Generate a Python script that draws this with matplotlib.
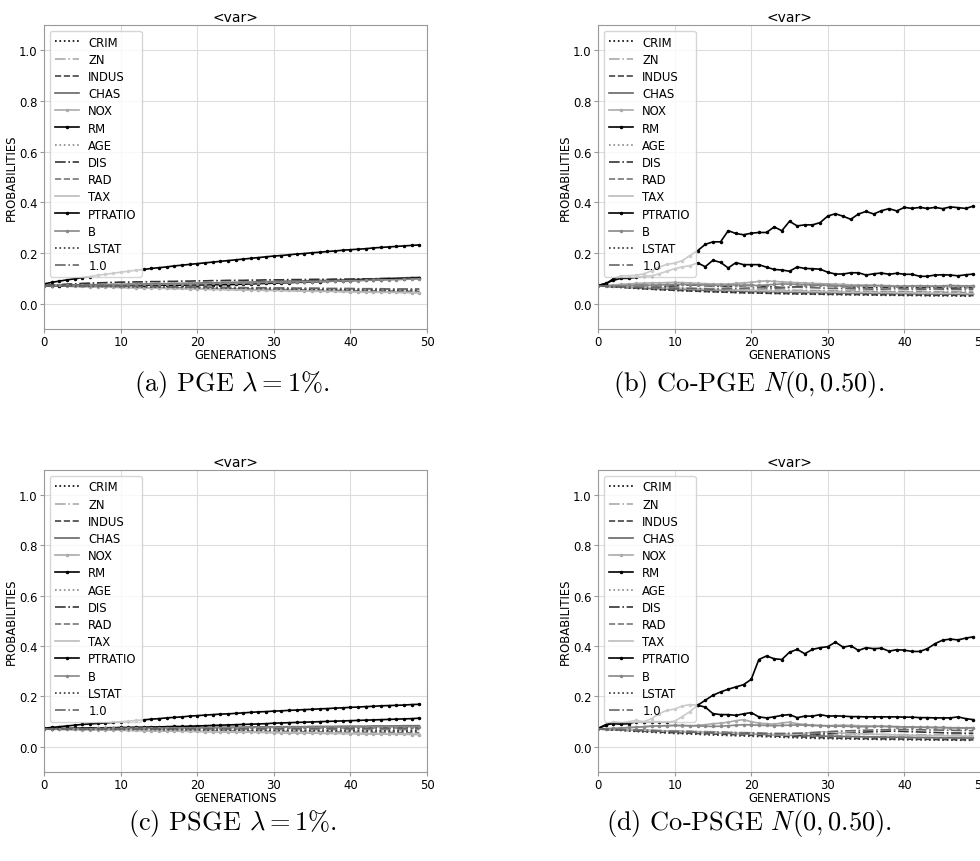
import numpy as np
import matplotlib.pyplot as plt

plt.rcParams['font.size'] = 8.4
plt.rcParams['mathtext.fontset'] = 'cm'

labels = ["CRIM", "ZN", "INDUS", "CHAS", "NOX", "RM", "AGE", "DIS", "RAD",
          "TAX", "PTRATIO", "B", "LSTAT", "1.0"]

# probabilities per generation, in thousandths

# (a) PGE
pge_CRIM = [71, 71, 70, 70, 69, 69, 68, 68, 67, 67,
            66, 66, 65, 65, 64, 64, 63, 63, 62, 62,
            61, 61, 60, 60, 59, 59, 58, 58, 57, 57,
            56, 56, 56, 55, 55, 55, 54, 54, 54, 53,
            53, 53, 52, 52, 52, 51, 51, 51, 50, 50]
pge_ZN = [71, 71, 71, 70, 70, 70, 69, 69, 69, 68,
          68, 68, 67, 67, 67, 66, 66, 66, 65, 65,
          65, 64, 64, 64, 63, 63, 63, 62, 62, 62,
          61, 61, 61, 60, 60, 60, 59, 59, 59, 58,
          58, 58, 58, 57, 57, 57, 57, 56, 56, 56]
pge_INDUS = [71, 70, 70, 69, 69, 68, 67, 67, 66, 66,
             65, 65, 64, 63, 63, 62, 62, 61, 61, 60,
             60, 59, 59, 58, 58, 57, 57, 56, 56, 55,
             55, 54, 54, 53, 53, 52, 52, 51, 51, 51,
             50, 50, 49, 49, 49, 48, 48, 48, 47, 47]
pge_CHAS = [71, 72, 72, 73, 73, 74, 74, 75, 75, 76,
            76, 77, 77, 78, 78, 79, 79, 80, 80, 81,
            81, 82, 82, 83, 84, 84, 85, 85, 86, 87,
            87, 88, 89, 89, 90, 91, 91, 92, 93, 94,
            95, 96, 97, 98, 99, 100, 101, 102, 103, 104]
pge_NOX = [71, 70, 70, 69, 68, 68, 67, 66, 66, 65,
           64, 64, 63, 63, 62, 61, 61, 60, 60, 59,
           58, 58, 57, 57, 56, 56, 55, 55, 54, 54,
           53, 53, 52, 52, 51, 51, 50, 50, 49, 49,
           48, 48, 47, 47, 46, 46, 45, 45, 44, 44]
pge_RM = [78, 84, 89, 94, 98, 103, 107, 112, 116, 120,
          124, 128, 132, 135, 139, 142, 145, 149, 152, 155,
          158, 161, 164, 167, 170, 173, 176, 179, 182, 185,
          188, 190, 193, 196, 198, 201, 203, 206, 208, 211,
          213, 215, 217, 220, 222, 224, 226, 228, 230, 232]
pge_AGE = [71, 71, 70, 70, 69, 69, 69, 68, 68, 67,
           67, 67, 66, 66, 65, 65, 65, 64, 64, 63,
           63, 63, 62, 62, 61, 61, 61, 60, 60, 59,
           59, 59, 58, 58, 57, 57, 57, 56, 56, 55,
           55, 55, 54, 54, 54, 53, 53, 53, 52, 52]
pge_DIS = [71, 73, 75, 77, 78, 80, 81, 82, 83, 84,
           85, 85, 86, 86, 87, 87, 88, 88, 89, 89,
           90, 90, 91, 91, 92, 92, 92, 93, 93, 94,
           94, 94, 95, 95, 95, 96, 96, 96, 97, 97,
           97, 98, 98, 98, 99, 99, 99, 100, 100, 100]
pge_RAD = [71, 70, 70, 69, 69, 68, 68, 67, 67, 66,
           66, 65, 65, 64, 64, 63, 63, 62, 62, 61,
           61, 60, 60, 59, 59, 58, 58, 57, 57, 56,
           56, 55, 55, 54, 54, 53, 53, 52, 52, 52,
           51, 51, 50, 50, 50, 49, 49, 49, 48, 48]
pge_TAX = [71, 70, 69, 69, 68, 67, 67, 66, 65, 65,
           64, 63, 63, 62, 61, 61, 60, 59, 59, 58,
           58, 57, 56, 56, 55, 55, 54, 53, 53, 52,
           52, 51, 51, 50, 50, 49, 49, 48, 48, 47,
           47, 46, 46, 45, 45, 45, 44, 44, 43, 43]
pge_PTRATIO = [71, 71, 71, 72, 72, 72, 72, 72, 72, 72,
               72, 72, 72, 73, 73, 73, 73, 73, 73, 74,
               74, 74, 75, 75, 75, 76, 77, 78, 79, 80,
               81, 82, 83, 84, 85, 86, 87, 88, 89, 90,
               91, 92, 93, 94, 95, 97, 98, 99, 100, 101]
pge_B = [71, 71, 72, 72, 72, 73, 73, 73, 74, 74,
         74, 75, 75, 76, 76, 76, 77, 77, 78, 78,
         79, 79, 80, 80, 81, 81, 82, 82, 83, 84,
         84, 85, 85, 86, 87, 87, 88, 89, 89, 90,
         91, 91, 92, 93, 94, 94, 95, 96, 97, 98]
pge_LSTAT = [71, 71, 70, 70, 70, 69, 69, 68, 68, 68,
             67, 67, 66, 66, 66, 65, 65, 64, 64, 64,
             63, 63, 62, 62, 62, 61, 61, 60, 60, 60,
             59, 59, 58, 58, 58, 57, 57, 57, 56, 56,
             56, 55, 55, 55, 55, 54, 54, 54, 54, 54]
pge_ONE = [71, 71, 71, 70, 70, 70, 69, 69, 69, 69,
           68, 68, 68, 67, 67, 67, 66, 66, 66, 66,
           65, 65, 65, 64, 64, 64, 63, 63, 63, 63,
           62, 62, 62, 61, 61, 61, 61, 60, 60, 60,
           60, 59, 59, 59, 59, 58, 58, 58, 58, 58]

# (b) Co-PGE
copge_CRIM = [71, 69, 68, 66, 65, 63, 62, 61, 59, 58,
              57, 56, 55, 54, 52, 51, 50, 49, 48, 47,
              46, 46, 45, 44, 44, 43, 42, 42, 41, 41,
              40, 40, 39, 39, 38, 38, 38, 37, 37, 37,
              36, 36, 36, 35, 35, 35, 35, 34, 34, 34]
copge_ZN = [71, 70, 69, 69, 68, 67, 66, 66, 65, 64,
            63, 63, 62, 61, 60, 60, 59, 58, 57, 57,
            56, 56, 55, 55, 54, 54, 53, 53, 52, 52,
            52, 51, 51, 51, 50, 50, 50, 49, 49, 49,
            49, 48, 48, 48, 48, 48, 47, 47, 47, 47]
copge_INDUS = [71, 69, 67, 65, 63, 61, 59, 57, 56, 54,
               53, 52, 50, 49, 48, 47, 46, 45, 44, 43,
               43, 42, 41, 41, 40, 40, 39, 39, 38, 38,
               37, 37, 37, 36, 36, 36, 35, 35, 35, 34,
               34, 34, 34, 33, 33, 33, 33, 33, 32, 32]
copge_CHAS = [71, 69, 67, 66, 64, 63, 61, 60, 59, 58,
              57, 56, 55, 54, 53, 52, 52, 51, 50, 49,
              48, 48, 47, 47, 46, 46, 45, 45, 44, 44,
              43, 43, 42, 42, 42, 41, 41, 41, 40, 40,
              40, 39, 39, 39, 38, 38, 38, 37, 37, 37]
copge_NOX = [71, 72, 74, 76, 78, 80, 81, 82, 82, 83,
             84, 83, 82, 80, 79, 78, 78, 77, 80, 82,
             84, 88, 90, 88, 86, 84, 83, 82, 80, 79,
             78, 77, 76, 74, 74, 73, 72, 72, 71, 70,
             70, 69, 70, 69, 68, 69, 68, 68, 67, 68]
copge_RM = [72, 78, 98, 110, 110, 112, 118, 130, 145, 155,
            160, 170, 190, 209, 234, 244, 244, 288, 277, 272,
            278, 281, 281, 303, 288, 325, 307, 311, 311, 320,
            346, 355, 345, 333, 354, 364, 354, 367, 375, 366,
            380, 376, 380, 376, 380, 375, 382, 379, 376, 385]
copge_AGE = [71, 70, 68, 67, 66, 64, 63, 62, 61, 60,
             59, 58, 57, 56, 55, 54, 53, 52, 52, 51,
             50, 49, 49, 48, 47, 47, 46, 46, 45, 45,
             44, 44, 44, 43, 43, 43, 42, 42, 42, 42,
             41, 41, 41, 41, 40, 40, 40, 40, 40, 39]
copge_DIS = [71, 70, 69, 70, 71, 72, 73, 72, 70, 69,
             70, 72, 74, 73, 71, 70, 68, 67, 69, 71,
             73, 70, 68, 66, 64, 65, 67, 69, 71, 73,
             72, 70, 68, 66, 65, 64, 63, 64, 65, 66,
             64, 63, 62, 63, 64, 62, 61, 62, 63, 62]
copge_RAD = [71, 70, 69, 67, 66, 65, 64, 63, 62, 61,
             60, 59, 58, 57, 56, 55, 55, 54, 53, 53,
             52, 52, 51, 51, 50, 50, 49, 49, 49, 48,
             48, 48, 47, 47, 47, 46, 46, 46, 46, 45,
             45, 45, 45, 44, 44, 44, 44, 44, 43, 43]
copge_TAX = [71, 70, 69, 68, 67, 66, 65, 64, 63, 62,
             61, 60, 59, 58, 57, 56, 55, 55, 54, 53,
             52, 52, 51, 50, 50, 49, 49, 48, 48, 47,
             47, 46, 46, 45, 45, 45, 44, 44, 44, 43,
             43, 43, 42, 42, 42, 41, 41, 41, 40, 40]
copge_PTRATIO = [72, 80, 92, 100, 100, 104, 108, 110, 118, 128,
                 138, 145, 150, 161, 146, 171, 163, 141, 162, 154,
                 154, 154, 144, 135, 133, 128, 145, 139, 138, 136,
                 124, 117, 117, 122, 122, 113, 118, 121, 116, 120,
                 116, 116, 108, 108, 113, 114, 113, 110, 114, 117]
copge_B = [71, 70, 70, 71, 72, 73, 74, 73, 74, 75,
           76, 76, 75, 74, 74, 73, 72, 73, 74, 73,
           72, 72, 74, 76, 78, 77, 76, 75, 74, 73,
           72, 71, 70, 69, 70, 71, 72, 70, 69, 68,
           69, 70, 71, 70, 69, 70, 72, 71, 70, 71]
copge_LSTAT = [71, 68, 66, 64, 62, 60, 58, 57, 55, 54,
               52, 51, 50, 49, 48, 47, 46, 45, 44, 43,
               42, 42, 41, 40, 40, 39, 38, 38, 37, 37,
               36, 36, 35, 35, 35, 34, 34, 33, 33, 33,
               32, 32, 32, 31, 31, 31, 31, 30, 30, 30]
copge_ONE = [71, 69, 68, 67, 66, 65, 65, 64, 63, 62,
             61, 60, 60, 59, 58, 57, 58, 59, 60, 61,
             62, 63, 62, 61, 62, 64, 65, 64, 63, 62,
             61, 60, 60, 59, 58, 58, 57, 57, 58, 59,
             58, 57, 56, 57, 58, 57, 56, 56, 55, 56]

# (c) PSGE
psge_CRIM = [71, 71, 71, 70, 70, 70, 70, 69, 69, 69,
             69, 68, 68, 68, 68, 67, 67, 67, 67, 66,
             66, 66, 66, 65, 65, 65, 65, 64, 64, 64,
             64, 63, 63, 63, 63, 63, 62, 62, 62, 62,
             62, 61, 61, 61, 61, 61, 61, 60, 60, 60]
psge_ZN = [71, 71, 71, 71, 71, 71, 71, 70, 70, 70,
           70, 70, 70, 70, 70, 70, 70, 69, 69, 69,
           69, 69, 69, 69, 69, 69, 69, 69, 69, 69,
           69, 68, 68, 68, 68, 68, 68, 68, 68, 68,
           68, 68, 68, 68, 68, 68, 68, 68, 68, 68]
psge_INDUS = [71, 70, 70, 70, 69, 69, 68, 68, 68, 67,
              67, 66, 66, 66, 65, 65, 64, 64, 64, 63,
              63, 62, 62, 62, 61, 61, 60, 60, 60, 59,
              59, 58, 58, 58, 57, 57, 57, 56, 56, 56,
              55, 55, 55, 54, 54, 54, 54, 53, 53, 53]
psge_CHAS = [71, 71, 72, 72, 72, 73, 73, 73, 74, 74,
             74, 74, 75, 75, 75, 76, 76, 76, 76, 77,
             77, 77, 77, 78, 78, 78, 78, 79, 79, 79,
             79, 80, 80, 80, 80, 81, 81, 81, 81, 82,
             82, 82, 82, 83, 83, 83, 83, 84, 84, 84]
psge_NOX = [71, 70, 70, 69, 69, 68, 68, 67, 67, 66,
            66, 65, 65, 64, 64, 63, 63, 62, 62, 61,
            61, 60, 60, 59, 59, 58, 58, 58, 57, 57,
            56, 56, 55, 55, 55, 54, 54, 53, 53, 53,
            52, 52, 51, 51, 51, 50, 50, 50, 49, 49]
psge_RM = [74, 77, 80, 83, 86, 89, 91, 93, 95, 97,
           100, 102, 105, 107, 110, 112, 115, 117, 119, 122,
           124, 126, 128, 130, 131, 133, 135, 137, 139, 140,
           142, 143, 145, 146, 148, 149, 151, 152, 154, 155,
           157, 158, 160, 161, 163, 164, 165, 166, 168, 169]
psge_AGE = [71, 71, 70, 70, 70, 70, 69, 69, 69, 69,
            68, 68, 68, 67, 67, 67, 67, 66, 66, 66,
            65, 65, 65, 65, 64, 64, 64, 63, 63, 63,
            63, 62, 62, 62, 62, 61, 61, 61, 61, 60,
            60, 60, 60, 59, 59, 59, 59, 58, 58, 58]
psge_DIS = [71, 71, 71, 71, 72, 72, 72, 72, 72, 73,
            73, 73, 73, 73, 73, 74, 74, 74, 74, 74,
            74, 75, 75, 75, 75, 75, 75, 75, 76, 76,
            76, 76, 76, 76, 76, 76, 77, 77, 77, 77,
            77, 77, 77, 77, 77, 77, 77, 77, 77, 77]
psge_RAD = [71, 71, 70, 70, 70, 69, 69, 69, 68, 68,
            68, 67, 67, 67, 66, 66, 66, 65, 65, 65,
            64, 64, 64, 63, 63, 63, 62, 62, 62, 61,
            61, 61, 60, 60, 60, 60, 59, 59, 59, 58,
            58, 58, 58, 57, 57, 57, 57, 56, 56, 56]
psge_TAX = [71, 70, 70, 69, 69, 68, 68, 68, 67, 67,
            66, 66, 65, 65, 64, 64, 64, 63, 63, 62,
            62, 61, 61, 61, 60, 60, 59, 59, 59, 58,
            58, 57, 57, 57, 56, 56, 56, 55, 55, 54,
            54, 54, 53, 53, 53, 52, 52, 52, 51, 51]
psge_PTRATIO = [72, 72, 73, 73, 74, 74, 75, 75, 76, 76,
                77, 77, 78, 78, 79, 79, 80, 81, 81, 82,
                83, 84, 85, 86, 87, 88, 89, 90, 91, 92,
                94, 95, 96, 97, 98, 99, 100, 101, 102, 103,
                104, 105, 106, 107, 108, 109, 110, 111, 112, 114]
psge_B = [71, 71, 71, 72, 72, 72, 72, 73, 73, 73,
          73, 74, 74, 74, 74, 74, 75, 75, 75, 75,
          75, 76, 76, 76, 76, 76, 77, 77, 77, 77,
          77, 78, 78, 78, 78, 78, 78, 79, 79, 79,
          79, 79, 79, 80, 80, 80, 80, 80, 80, 80]
psge_LSTAT = [71, 71, 71, 71, 70, 70, 70, 70, 70, 70,
              69, 69, 69, 69, 69, 68, 68, 68, 68, 68,
              68, 67, 67, 67, 67, 67, 67, 66, 66, 66,
              66, 66, 66, 66, 65, 65, 65, 65, 65, 65,
              65, 65, 64, 64, 64, 64, 64, 64, 64, 64]
psge_ONE = [71, 71, 71, 71, 71, 71, 71, 71, 71, 71,
            71, 71, 71, 71, 71, 72, 72, 72, 72, 72,
            72, 72, 72, 72, 72, 72, 72, 72, 72, 72,
            72, 72, 72, 72, 72, 72, 72, 72, 72, 72,
            72, 72, 72, 72, 72, 72, 72, 72, 72, 72]

# (d) Co-PSGE
copsge_CRIM = [71, 70, 69, 67, 66, 65, 64, 63, 62, 61,
               60, 59, 58, 57, 56, 55, 54, 53, 52, 51,
               50, 49, 48, 47, 46, 45, 44, 43, 42, 41,
               41, 40, 40, 39, 39, 38, 38, 37, 37, 36,
               36, 36, 35, 35, 35, 34, 34, 34, 33, 33]
copsge_ZN = [71, 70, 70, 69, 68, 67, 67, 66, 65, 64,
             64, 63, 62, 61, 61, 60, 59, 58, 58, 57,
             56, 56, 55, 55, 54, 54, 53, 53, 52, 52,
             52, 51, 51, 51, 50, 50, 50, 49, 49, 49,
             48, 48, 48, 48, 47, 47, 47, 47, 46, 46]
copsge_INDUS = [71, 69, 68, 66, 65, 63, 62, 60, 59, 57,
                56, 55, 54, 53, 52, 51, 50, 49, 48, 47,
                46, 45, 44, 43, 42, 41, 40, 39, 38, 37,
                36, 35, 34, 34, 33, 33, 32, 32, 31, 31,
                31, 30, 30, 30, 29, 29, 29, 28, 28, 28]
copsge_CHAS = [71, 70, 69, 68, 67, 66, 65, 64, 63, 62,
               61, 60, 59, 58, 57, 56, 55, 54, 53, 52,
               51, 50, 49, 48, 47, 46, 45, 44, 44, 43,
               42, 42, 41, 41, 40, 40, 39, 39, 38, 38,
               38, 37, 37, 37, 36, 36, 36, 35, 35, 35]
copsge_NOX = [71, 72, 73, 74, 76, 78, 80, 82, 83, 84,
              85, 84, 83, 86, 88, 92, 94, 98, 104, 108,
              100, 94, 92, 90, 95, 98, 92, 89, 86, 85,
              84, 85, 86, 85, 84, 83, 82, 81, 80, 80,
              79, 78, 77, 77, 76, 76, 75, 75, 74, 74]
copsge_RM = [73, 85, 100, 95, 100, 105, 100, 112, 132, 145,
             150, 162, 168, 165, 185, 205, 218, 229, 238, 247,
             268, 347, 361, 350, 347, 376, 387, 370, 387, 394,
             398, 416, 396, 402, 383, 394, 390, 392, 380, 386,
             384, 379, 379, 390, 410, 424, 428, 425, 432, 437]
copsge_AGE = [71, 70, 69, 68, 67, 66, 65, 64, 63, 62,
              61, 60, 59, 58, 57, 56, 55, 54, 53, 52,
              52, 51, 50, 49, 48, 47, 46, 45, 44, 43,
              42, 41, 40, 40, 39, 39, 38, 38, 37, 37,
              36, 36, 35, 35, 35, 34, 34, 34, 33, 33]
copsge_DIS = [71, 70, 69, 68, 67, 66, 65, 64, 63, 62,
              61, 60, 60, 59, 58, 57, 57, 56, 55, 55,
              54, 53, 52, 50, 48, 46, 45, 46, 48, 50,
              52, 54, 55, 56, 58, 59, 60, 61, 62, 62,
              61, 60, 59, 58, 57, 56, 55, 55, 54, 54]
copsge_RAD = [71, 70, 69, 69, 68, 67, 66, 65, 64, 63,
              62, 62, 61, 60, 59, 58, 57, 57, 56, 55,
              54, 53, 52, 51, 50, 49, 48, 47, 46, 45,
              44, 43, 42, 41, 41, 40, 40, 39, 39, 38,
              38, 37, 37, 37, 36, 36, 36, 35, 35, 35]
copsge_TAX = [71, 70, 69, 68, 67, 66, 66, 65, 64, 63,
              62, 61, 60, 59, 58, 57, 56, 55, 54, 53,
              52, 51, 50, 49, 48, 48, 50, 54, 58, 60,
              59, 57, 55, 53, 52, 51, 50, 49, 48, 47,
              46, 46, 45, 45, 44, 44, 43, 43, 42, 42]
copsge_PTRATIO = [73, 88, 92, 90, 92, 100, 98, 100, 100, 98,
                  102, 120, 140, 165, 158, 132, 128, 128, 125, 131,
                  136, 119, 115, 119, 125, 128, 116, 122, 122, 128,
                  122, 123, 122, 120, 120, 119, 119, 119, 119, 119,
                  118, 118, 116, 116, 115, 115, 115, 119, 112, 108]
copsge_B = [71, 72, 73, 75, 77, 78, 80, 82, 83, 84,
            85, 85, 84, 83, 82, 81, 82, 84, 86, 88,
            87, 86, 85, 84, 85, 86, 87, 86, 85, 84,
            83, 82, 82, 81, 80, 80, 81, 82, 81, 80,
            79, 79, 78, 78, 77, 77, 76, 76, 75, 76]
copsge_LSTAT = [71, 69, 67, 65, 63, 61, 59, 58, 56, 55,
                53, 52, 51, 50, 48, 47, 46, 45, 44, 43,
                42, 41, 40, 39, 38, 37, 36, 35, 34, 33,
                33, 32, 32, 31, 31, 30, 30, 29, 29, 29,
                28, 28, 28, 27, 27, 27, 27, 26, 26, 26]
copsge_ONE = [71, 70, 69, 68, 67, 66, 65, 64, 63, 62,
              61, 60, 59, 58, 57, 56, 55, 54, 54, 53,
              52, 52, 51, 51, 52, 53, 54, 55, 56, 58,
              60, 62, 63, 64, 65, 66, 67, 68, 68, 69,
              69, 68, 68, 67, 67, 66, 66, 65, 65, 64]

pge = [pge_CRIM, pge_ZN, pge_INDUS, pge_CHAS, pge_NOX, pge_RM, pge_AGE,
       pge_DIS, pge_RAD, pge_TAX, pge_PTRATIO, pge_B, pge_LSTAT, pge_ONE]
copge = [copge_CRIM, copge_ZN, copge_INDUS, copge_CHAS, copge_NOX, copge_RM,
         copge_AGE, copge_DIS, copge_RAD, copge_TAX, copge_PTRATIO, copge_B,
         copge_LSTAT, copge_ONE]
psge = [psge_CRIM, psge_ZN, psge_INDUS, psge_CHAS, psge_NOX, psge_RM,
        psge_AGE, psge_DIS, psge_RAD, psge_TAX, psge_PTRATIO, psge_B,
        psge_LSTAT, psge_ONE]
copsge = [copsge_CRIM, copsge_ZN, copsge_INDUS, copsge_CHAS, copsge_NOX,
          copsge_RM, copsge_AGE, copsge_DIS, copsge_RAD, copsge_TAX,
          copsge_PTRATIO, copsge_B, copsge_LSTAT, copsge_ONE]

# colour, linestyle, marker for each variable
styles = [
    ('black', ':', None),
    ('#aaaaaa', '-.', None),
    ('#444444', '--', None),
    ('#666666', '-', None),
    ('#aaaaaa', '-', '.'),
    ('black', '-', '.'),
    ('#888888', ':', None),
    ('#333333', '-.', None),
    ('#777777', '--', None),
    ('#bbbbbb', '-', None),
    ('black', '-', '.'),
    ('#888888', '-', '.'),
    ('#333333', ':', None),
    ('#666666', '-.', None),
]

W, H = 980, 862
fig = plt.figure(figsize=(W / 100, H / 100), dpi=100)


def panel(x0, y0, x1, y1, series, caption, cap_x, cap_y):
    ax = fig.add_axes([x0 / W, 1 - y1 / H, (x1 - x0) / W, (y1 - y0) / H])
    for name, vals, (c, ls, mk) in zip(labels, series, styles):
        v = np.array(vals) / 1000
        ax.plot(np.arange(len(v)), v, color=c, linestyle=ls, marker=mk,
                markersize=3, linewidth=1.2, label=name)
    ax.set_xlim(0, 50)
    ax.set_ylim(-0.1, 1.1)
    ax.set_xticks([0, 10, 20, 30, 40, 50])
    ax.set_yticks([0.0, 0.2, 0.4, 0.6, 0.8, 1.0])
    ax.grid(True, color='#dddddd', linewidth=0.8)
    ax.set_axisbelow(True)
    for s in ax.spines.values():
        s.set_color('#999999')
    ax.tick_params(colors='#999999', labelcolor='black', length=3, pad=1.5)
    ax.set_title('<var>', fontsize=10, pad=3)
    ax.set_xlabel('GENERATIONS', labelpad=0)
    ax.set_ylabel('PROBABILITIES', labelpad=1)
    ax.legend(loc='upper left', labelspacing=0.36, handlelength=2.1,
              handletextpad=0.8, borderaxespad=0.5, borderpad=0.4,
              framealpha=0.8)
    fig.text(cap_x / W, 1 - cap_y / H, caption, fontsize=19, family='cmr10',
             ha='center', va='center')
    return ax


panel(44, 26, 427, 330, pge, r'(a) PGE $\lambda = 1\%$.', 232, 385)
panel(598, 26, 981, 330, copge, r'(b) Co-PGE $N(0, 0.50)$.', 749, 385)
panel(44, 471, 427, 773, psge, r'(c) PSGE $\lambda = 1\%$.', 232, 824)
panel(598, 471, 981, 773, copsge, r'(d) Co-PSGE $N(0, 0.50)$.', 749, 824)

fig.savefig('out.png', dpi=100)
